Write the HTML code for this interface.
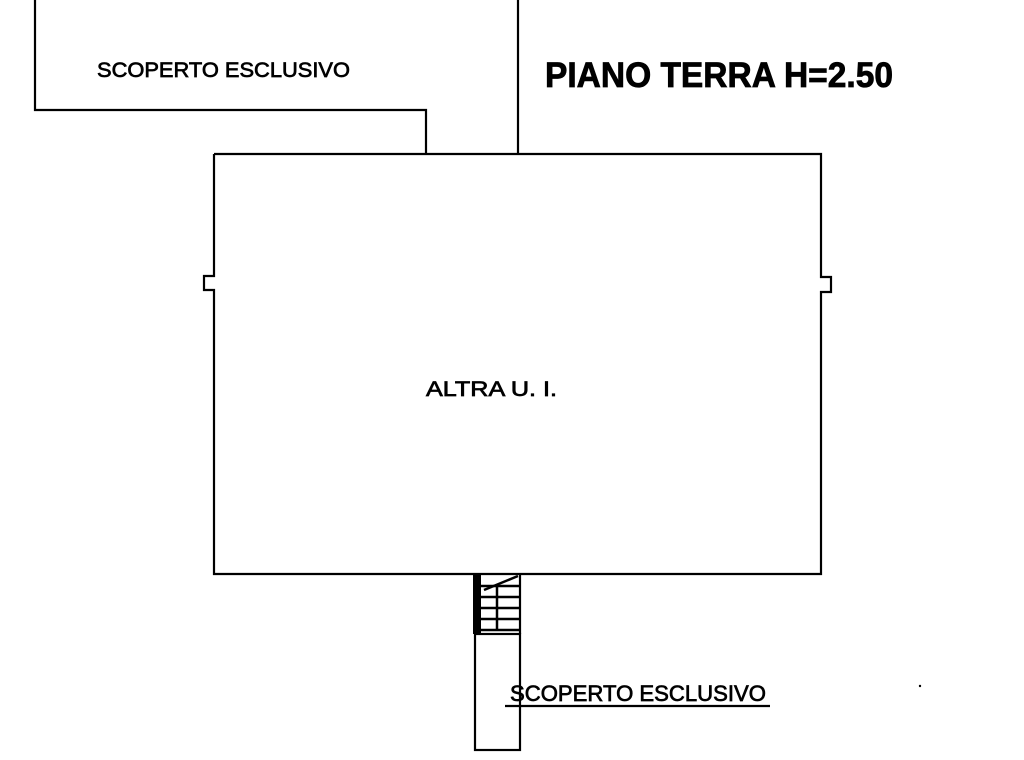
<!DOCTYPE html>
<html><head><style>body{margin:0;background:#fff}svg{display:block}</style></head>
<body>
<svg width="1024" height="760" viewBox="0 0 1024 760" xmlns="http://www.w3.org/2000/svg">
<g fill="none" stroke="#000" stroke-width="2.2">
<polyline points="35,0 35,110 426,110 426,154"/>
<line x1="518" y1="0" x2="518" y2="154"/>
<polyline points="214,154 821,154 821,277 831,277 831,292 821,292 821,574 214,574 214,290 204,290 204,276 214,276 214,154"/>
<rect x="475" y="634" width="45" height="116"/>
<line x1="505" y1="706" x2="770" y2="706"/>
<line x1="475" y1="574" x2="475" y2="634"/>
<line x1="520" y1="574" x2="520" y2="634"/>
</g>
<rect x="473" y="574" width="8" height="60" fill="#000"/>
<g stroke="#000" stroke-width="2.5">
<line x1="480" y1="586" x2="519" y2="586"/>
<line x1="480" y1="597" x2="519" y2="597"/>
<line x1="480" y1="608" x2="519" y2="608"/>
<line x1="480" y1="619" x2="519" y2="619"/>
<line x1="480" y1="630" x2="519" y2="630"/>
<line x1="497" y1="585" x2="497" y2="630"/>
<line x1="484" y1="590" x2="518" y2="576"/>
</g>
<circle cx="920" cy="686" r="1.2" fill="#000"/>
<g font-family="Liberation Sans, sans-serif" fill="#000" stroke="#000">
<text x="545" y="87" font-size="35" font-weight="bold" stroke-width="0.8" textLength="348" lengthAdjust="spacingAndGlyphs">PIANO TERRA H=2.50</text>
<text x="97" y="77" font-size="21" stroke-width="0.7" textLength="253" lengthAdjust="spacingAndGlyphs">SCOPERTO ESCLUSIVO</text>
<text x="510" y="701" font-size="22" stroke-width="0.7" textLength="256" lengthAdjust="spacingAndGlyphs">SCOPERTO ESCLUSIVO</text>
<text x="426" y="396" font-size="21" stroke-width="0.7" textLength="131" lengthAdjust="spacingAndGlyphs">ALTRA U. I.</text>
</g>
</svg>
</body></html>
